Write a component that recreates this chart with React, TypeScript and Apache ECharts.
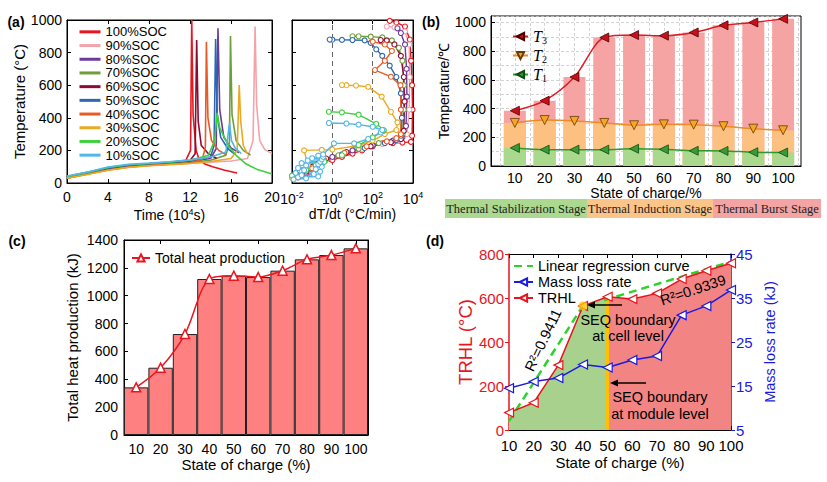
import React, { useEffect, useRef } from "react";
import * as echarts from "echarts";

const SANS = "'Liberation Sans', Arial, Helvetica, sans-serif";
const SERIF = "'Liberation Serif', 'Times New Roman', Times, serif";

// ---------- (a) temperature vs time  [time (1e4 s), T (°C)] ----------
const SOC_NAMES = ["100%SOC", "90%SOC", "80%SOC", "70%SOC", "60%SOC", "50%SOC", "40%SOC", "30%SOC", "20%SOC", "10%SOC"];
const SOC_COLORS = ["#e8141e", "#f4a3ab", "#6b3b9c", "#6e9e3a", "#8c0b32", "#2b68b0", "#ea5a24", "#e9a922", "#3fd03f", "#52b6e8"];

const TEMP_100 = [[0, 38], [2, 62], [4, 88], [6, 105], [8, 115], [10, 125], [11.6, 140], [12.05, 200], [12.17, 1000], [12.3, 420], [12.6, 200], [12.9, 141], [13.5, 115], [14.2, 100], [15.4, 78], [16.6, 61]];
const TEMP_90 = [[0, 30], [2, 55], [4, 80], [6, 98], [8, 108], [10, 115], [12, 122], [14, 128], [16, 135], [17.6, 150], [18.15, 260], [18.35, 960], [18.5, 480], [18.8, 260], [19.3, 205], [20, 180]];
const TEMP_80 = [[0, 35], [2, 60], [4, 88], [6, 105], [8, 115], [10, 122], [12, 132], [14, 150], [14.55, 210], [14.73, 950], [14.9, 450], [15.3, 280], [16, 215], [16.8, 185]];
const TEMP_70 = [[0, 30], [2, 55], [4, 82], [6, 100], [8, 110], [10, 118], [12, 126], [14, 140], [15.5, 170], [15.85, 250], [15.95, 902], [16.1, 420], [16.5, 260], [17.2, 200], [17.9, 172]];
const TEMP_60 = [[0, 40], [2, 65], [4, 92], [6, 108], [8, 118], [10, 125], [12, 138], [12.5, 180], [12.65, 877], [12.8, 380], [13.1, 230], [13.8, 180], [14.6, 150]];
const TEMP_50 = [[0, 38], [2, 62], [4, 90], [6, 108], [8, 118], [10, 126], [12, 138], [14, 160], [14.35, 230], [14.5, 883], [14.65, 420], [15, 280], [15.7, 210], [16.4, 175]];
const TEMP_40 = [[0, 30], [2, 55], [4, 80], [6, 97], [8, 107], [10, 115], [12, 122], [13.2, 145], [13.5, 220], [13.6, 867], [13.75, 400], [14.1, 260], [14.8, 200], [15.5, 175]];
const TEMP_30 = [[0, 30], [2, 52], [4, 78], [6, 96], [8, 106], [10, 113], [12, 120], [14, 132], [16, 150], [16.6, 200], [16.8, 601], [16.95, 380], [17.2, 230], [17.6, 180]];
const TEMP_20 = [[0, 40], [2, 65], [4, 95], [6, 112], [8, 120], [10, 128], [12, 140], [13.8, 170], [14.4, 260], [14.65, 430], [14.9, 340], [15.2, 300], [15.8, 223], [16.5, 170], [17.4, 120], [18.5, 85], [20, 55]];
const TEMP_10 = [[0, 42], [2, 68], [4, 98], [6, 115], [8, 122], [10, 130], [12, 142], [14, 160], [15.5, 190], [15.85, 368], [16.05, 260], [16.4, 215], [17, 180]];
const TEMP_CURVES = [TEMP_100, TEMP_90, TEMP_80, TEMP_70, TEMP_60, TEMP_50, TEMP_40, TEMP_30, TEMP_20, TEMP_10];

// ---------- (a) heating rate vs temperature  [dT/dt (°C/min), T (°C)] ----------
const RATE_100 = [[0.02, 35], [0.05, 60], [0.1, 90], [0.3, 120], [1, 140], [3, 160], [10, 180], [30, 200], [100, 225], [300, 243], [1000, 245], [3000, 248], [7900, 252], [9000, 290], [9500, 450], [9000, 600], [8000, 750], [7000, 880], [4000, 960], [1500, 985], [700, 995]];
const RATE_90 = [[0.01, 30], [0.012, 45], [0.03, 60], [0.1, 100], [0.5, 140], [3, 170], [30, 210], [300, 240], [2000, 265], [5000, 300], [6500, 450], [6800, 650], [6500, 850], [4000, 930], [1200, 955], [500, 960]];
const RATE_80 = [[0.02, 40], [0.05, 70], [0.2, 120], [1, 160], [10, 200], [100, 230], [1000, 260], [3000, 280], [4500, 350], [5000, 530], [4800, 700], [4000, 850], [2500, 920], [1700, 949]];
const RATE_70 = [[0.02, 45], [0.08, 90], [0.3, 130], [2, 170], [20, 210], [200, 245], [1500, 270], [3000, 300], [3500, 450], [3500, 600], [3000, 750], [2000, 830], [900, 875], [300, 893], [80, 898], [20, 900], [10, 900]];
const RATE_60 = [[0.03, 50], [0.1, 100], [0.5, 150], [5, 190], [80, 225], [800, 250], [2500, 270], [3500, 320], [3800, 500], [3500, 650], [2500, 780], [1200, 850], [500, 875], [250, 877]];
const RATE_50 = [[0.02, 45], [0.08, 90], [0.3, 130], [3, 175], [40, 215], [400, 245], [1500, 265], [2500, 290], [2800, 400], [2500, 550], [1500, 650], [700, 720], [300, 780], [150, 820], [80, 860], [40, 875], [10, 877], [3, 878], [1, 879], [0.74, 880]];
const RATE_40 = [[0.02, 40], [0.1, 90], [0.4, 140], [4, 185], [50, 225], [500, 255], [1500, 275], [2500, 300], [2500, 450], [2400, 600], [800, 652], [130, 693], [400, 750], [900, 810], [400, 850], [100, 867]];
const RATE_30 = [[0.01, 35], [0.03, 70], [0.06, 110], [0.04, 200], [0.3, 203], [1, 205], [20, 230], [100, 260], [400, 300], [1500, 325], [1700, 372], [800, 437], [280, 530], [60, 590], [15, 598], [5, 600], [3, 601]];
const RATE_20 = [[0.01, 45], [0.05, 80], [0.15, 110], [0.4, 130], [3, 170], [20, 233], [100, 280], [350, 320], [350, 325], [150, 363], [20, 419], [3, 433], [0.67, 437]];
const RATE_10 = [[0.012, 22], [0.05, 28], [0.02, 35], [0.2, 40], [0.03, 48], [0.12, 55], [0.015, 62], [0.25, 70], [0.04, 78], [0.15, 85], [0.02, 92], [0.3, 100], [0.05, 108], [0.2, 115], [0.03, 122], [0.25, 130], [0.06, 138], [0.3, 145], [0.1, 152], [0.35, 160], [0.2, 168], [0.35, 175], [1.2, 243], [12, 243], [60, 270], [250, 310], [300, 325], [100, 345], [20, 358], [5, 365], [0.68, 368]];
const RATE_CURVES = [RATE_100, RATE_90, RATE_80, RATE_70, RATE_60, RATE_50, RATE_40, RATE_30, RATE_20, RATE_10];
const LOG_TICKS = [0.01, 1, 100, 10000];
const DASHED_RATES = [1, 100];

// ---------- (b) characteristic temperatures ----------
const SOC = [10, 20, 30, 40, 50, 60, 70, 80, 90, 100];
const SOC_LABELS = ["10", "20", "30", "40", "50", "60", "70", "80", "90", "100"];
const T3 = [385, 455, 620, 895, 912, 908, 930, 980, 1000, 1025];
const T2 = [300, 320, 314, 300, 284, 290, 288, 277, 260, 249];
const T1 = [126, 114, 114, 114, 120, 116, 106, 105, 96, 94];
const GRID_X_B = [5, 10, 15, 20, 25, 30, 35, 40, 45, 50, 55, 60, 65, 70, 75, 80, 85, 90, 95, 100, 105];
const STAGES = ["Thermal Stabilization Stage", "Thermal Induction Stage", "Thermal Burst Stage"];

// ---------- (c) total heat production (kJ) ----------
const HEAT = [342, 483, 725, 1120, 1144, 1134, 1180, 1261, 1292, 1340];

// ---------- (d) TRHL and mass loss rate ----------
const TRHL = [79, 124, 295, 564, 606, 595, 621, 686, 724, 758];
const MASS_LOSS = [14.5, 16.0, 16.8, 19.9, 19.2, 20.9, 21.8, 31.1, 33.2, 36.8];
const REG_LOW = [[10, 40], [40, 565]];
const REG_HIGH = [[48.5, 590], [100, 765]];
const CELL_IDX = 3; // 40 %SOC
const MODULE_IDX = 4; // 50 %SOC

const plain = (v: number) => String(v);
const inTick = (color = "#000", inside = true) => ({ show: true, inside, length: 4, lineStyle: { color, width: 1 } });
const axLine = (color = "#000", width = 1) => ({ show: true, onZero: false, lineStyle: { color, width } });
const lbl = (size: number, color = "#000", margin = 6) => ({ fontSize: size, color, margin, fontFamily: SANS, formatter: plain });
const nameStyle = (size: number, color = "#000") => ({ fontSize: size, color, fontFamily: SANS });
const noSplit = { show: false };
const box = { show: true, borderColor: "#000", borderWidth: 1, backgroundColor: "transparent" };

function txt(text: string, x: number, y: number, size: number, extra: any = {}, elExtra: any = {}) {
  return {
    type: "text",
    x,
    y,
    z: 100,
    ...elExtra,
    style: {
      text,
      fontSize: size,
      fontFamily: SANS,
      fill: "#000",
      align: "center",
      verticalAlign: "middle",
      textAlign: "center",
      textVerticalAlign: "middle",
      ...extra,
    },
  };
}

function arrowLeft(x1: number, x2: number, y: number) {
  return [
    { type: "line", z: 100, shape: { x1, y1: y, x2: x2 + 6, y2: y }, style: { stroke: "#000", lineWidth: 1.5 } },
    { type: "polygon", z: 100, shape: { points: [[x2, y], [x2 + 8, y - 3.5], [x2 + 8, y + 3.5]] }, style: { fill: "#000" } },
  ];
}

function buildOption(): any {
  const series: any[] = [];

  // (a) left
  TEMP_CURVES.forEach((d, i) => {
    series.push({
      type: "line", name: SOC_NAMES[i], xAxisIndex: 0, yAxisIndex: 0, data: d,
      symbol: "none", showSymbol: false, lineStyle: { color: SOC_COLORS[i], width: 1.6 },
      itemStyle: { color: SOC_COLORS[i] }, z: 3,
    });
  });
  // (a) right
  RATE_CURVES.forEach((d, i) => {
    const s: any = {
      type: "line", name: SOC_NAMES[i], xAxisIndex: 2, yAxisIndex: 2, data: d,
      symbol: "circle", symbolSize: 5, showSymbol: true,
      lineStyle: { color: SOC_COLORS[i], width: 1.4 },
      itemStyle: { color: "#fff", borderColor: SOC_COLORS[i], borderWidth: 1.1 }, z: 3,
    };
    if (i === 0) {
      s.markLine = {
        silent: true, symbol: "none", z: 2, label: { show: false },
        lineStyle: { type: [5, 4], color: "#666", width: 1 },
        data: DASHED_RATES.map((v) => ({ xAxis: v })),
      };
    }
    series.push(s);
  });

  // (b) bars
  const barB = (name: string, vals: number[], color: string, extra: any = {}) => ({
    type: "bar", name, xAxisIndex: 4, yAxisIndex: 4, data: SOC.map((s, i) => [s, vals[i]]),
    barWidth: 22, barGap: "-100%", itemStyle: { color }, z: 2, ...extra,
  });
  series.push(barB("b3", T3, "#f5a3a3", {
    markLine: {
      silent: true, symbol: "none", z: 1, label: { show: false },
      lineStyle: { type: [3, 2], color: "#c8c8c8", width: 0.8 },
      data: GRID_X_B.map((v) => ({ xAxis: v })),
    },
  }));
  series.push(barB("b2", T2, "#fcc081"));
  series.push(barB("b1", T1, "#aad88c"));
  const lineB = (name: string, vals: number[], line: string, fill: string, border: string, rot: number) => ({
    type: "line", name, xAxisIndex: 4, yAxisIndex: 4, data: SOC.map((s, i) => [s, vals[i]]),
    smooth: 0.3, symbol: "triangle", symbolSize: 9, symbolRotate: rot,
    lineStyle: { color: line, width: 1.5 }, itemStyle: { color: fill, borderColor: border, borderWidth: 0.8 }, z: 5,
  });
  series.push(lineB("T3", T3, "#e01a22", "#c8101a", "#4a0000", 90));
  series.push(lineB("T2", T2, "#f08a24", "#f5a623", "#6a3c00", 180));
  series.push(lineB("T1", T1, "#2e9a2e", "#3a9a3a", "#0d4d0d", 90));

  // (c)
  series.push({
    type: "bar", name: "heatBar", xAxisIndex: 5, yAxisIndex: 6, data: HEAT,
    barWidth: "100%", barCategoryGap: 0, itemStyle: { color: "#ff8080", borderColor: "#222", borderWidth: 1 }, z: 2,
  });
  series.push({
    type: "line", name: "Total heat production", xAxisIndex: 5, yAxisIndex: 6, data: HEAT,
    smooth: 0.3, symbol: "triangle", symbolSize: 9,
    lineStyle: { color: "#e8161e", width: 1.5 }, itemStyle: { color: "#fff", borderColor: "#e8161e", borderWidth: 1.5 }, z: 4,
  });

  // (d)
  const trhlPairs = SOC.map((s, i) => [s, TRHL[i]]);
  series.push({
    type: "line", name: "areaG", xAxisIndex: 7, yAxisIndex: 8, data: trhlPairs.slice(0, MODULE_IDX + 1),
    symbol: "none", lineStyle: { width: 0 }, areaStyle: { color: "#a9d18e", opacity: 1 }, z: 1,
  });
  series.push({
    type: "line", name: "areaR", xAxisIndex: 7, yAxisIndex: 8, data: trhlPairs.slice(MODULE_IDX),
    symbol: "none", lineStyle: { width: 0 }, areaStyle: { color: "#f28484", opacity: 1 }, z: 1,
    markLine: {
      silent: true, symbol: "none", z: 2, label: { show: false },
      lineStyle: { type: "solid", color: "#ffc000", width: 3 },
      data: [[{ coord: [SOC[MODULE_IDX], 0] }, { coord: [SOC[MODULE_IDX], TRHL[MODULE_IDX]] }]],
    },
  });
  const regStyle = { type: [8, 5], color: "#2ed12e", width: 2.5 };
  series.push({ type: "line", name: "Linear regression curve", xAxisIndex: 7, yAxisIndex: 8, data: REG_LOW, symbol: "none", lineStyle: regStyle, itemStyle: { color: "#2ed12e" }, z: 3 });
  series.push({ type: "line", name: "Linear regression curve", xAxisIndex: 7, yAxisIndex: 8, data: REG_HIGH, symbol: "none", lineStyle: regStyle, itemStyle: { color: "#2ed12e" }, z: 3 });
  series.push({
    type: "line", name: "TRHL", xAxisIndex: 7, yAxisIndex: 8, data: trhlPairs,
    symbol: "triangle", symbolRotate: 90, symbolSize: 9,
    lineStyle: { color: "#e8141e", width: 1.5 }, itemStyle: { color: "#fff", borderColor: "#e8141e", borderWidth: 1.2 }, z: 4,
  });
  series.push({
    type: "line", name: "Mass loss rate", xAxisIndex: 7, yAxisIndex: 9, data: SOC.map((s, i) => [s, MASS_LOSS[i]]),
    symbol: "triangle", symbolRotate: 90, symbolSize: 9,
    lineStyle: { color: "#1a1ae0", width: 1.5 }, itemStyle: { color: "#fff", borderColor: "#1a1ae0", borderWidth: 1.2 }, z: 4,
  });
  series.push({
    type: "scatter", name: "cellDot", xAxisIndex: 7, yAxisIndex: 8, data: [[SOC[CELL_IDX], TRHL[CELL_IDX]]],
    symbolSize: 9, itemStyle: { color: "#ffc000" }, z: 6,
  });

  const stageX = [445, 587, 713, 821];
  const stageColors = ["#abd98f", "#fbc58a", "#f5a4a4"];

  const graphic: any[] = [
    txt("(a)", 16, 22, 14, { fontWeight: "bold" }),
    txt("(b)", 431, 22, 14, { fontWeight: "bold" }),
    txt("(c)", 17, 241, 14, { fontWeight: "bold" }),
    txt("(d)", 435, 241, 14, { fontWeight: "bold" }),
  ];
  STAGES.forEach((s, i) => {
    graphic.push({ type: "rect", z: 1, shape: { x: stageX[i], y: 199, width: stageX[i + 1] - stageX[i], height: 19 }, style: { fill: stageColors[i] } });
    graphic.push(txt(s, (stageX[i] + stageX[i + 1]) / 2, 209, 12.5, { fontFamily: SERIF, fill: "#222" }));
  });
  graphic.push(txt("R\u00b2=0.9411", 543, 340, 14.5, {}, { rotation: 1.13 }));
  graphic.push(txt("R\u00b2=0.9339", 693, 290, 14.5, {}, { rotation: 0.32 }));
  graphic.push(txt("SEQ boundary", 628, 320, 14.5));
  graphic.push(txt("at cell level", 628, 336, 14.5));
  graphic.push(txt("SEQ boundary", 660, 397, 14.5));
  graphic.push(txt("at module level", 660, 414, 14.5));
  graphic.push(...arrowLeft(622, 587, 305));
  graphic.push(...arrowLeft(646, 610, 383));

  return {
    animation: false,
    backgroundColor: "#fff",
    textStyle: { fontFamily: SANS },
    grid: [
      { left: 67, top: 20, width: 205, height: 163, ...box },
      { left: 292, top: 20, width: 121, height: 163, ...box },
      { left: 491, top: 16, width: 310, height: 150, ...box },
      { left: 124, top: 240, width: 244, height: 195, ...box },
      { left: 509, top: 254, width: 222, height: 176, show: false },
    ],
    legend: [
      {
        data: SOC_NAMES, orient: "vertical", left: 78, top: 25, padding: 0, itemGap: 0,
        itemWidth: 21, itemHeight: 8, lineStyle: { width: 3 }, itemStyle: { opacity: 0 },
        textStyle: { fontSize: 13, color: "#000", lineHeight: 13.7, fontFamily: SANS },
      },
      {
        data: ["T3", "T2", "T1"], orient: "vertical", left: 512, top: 27, padding: 0, itemGap: 0,
        itemWidth: 15, itemHeight: 9,
        formatter: (n: string) => `{i|T}{s|${n.slice(1)}}`,
        textStyle: {
          color: "#000", lineHeight: 19,
          rich: { i: { fontFamily: SERIF, fontStyle: "italic", fontSize: 16, color: "#000" }, s: { fontFamily: SERIF, fontSize: 10, color: "#000", padding: [7, 0, 0, 0] } },
        },
      },
      {
        data: ["Total heat production"], left: 131, top: 251, padding: 0, itemWidth: 18, itemHeight: 9,
        textStyle: { fontSize: 14, color: "#000", fontFamily: SANS },
      },
      {
        data: [
          { name: "Linear regression curve", itemStyle: { opacity: 0 } },
          "Mass loss rate",
          "TRHL",
        ],
        orient: "vertical", left: 513, top: 258, padding: 0, itemGap: 0,
        itemWidth: 19, itemHeight: 9,
        textStyle: { fontSize: 14.5, color: "#000", lineHeight: 16, fontFamily: SANS },
      },
    ],
    xAxis: [
      {
        gridIndex: 0, type: "value", min: 0, max: 20, interval: 4, position: "bottom",
        axisLine: axLine(), axisTick: inTick(), axisLabel: lbl(14, "#000", 7), splitLine: noSplit,
        name: "Time (10{sup|4}s)", nameLocation: "middle", nameGap: 24,
        nameTextStyle: { ...nameStyle(14), rich: { sup: { fontSize: 9, padding: [0, 0, 7, 0], fontFamily: SANS } } },
      },
      { gridIndex: 0, type: "value", min: 0, max: 20, interval: 4, position: "top", axisLine: axLine(), axisTick: inTick(), axisLabel: { show: false }, splitLine: noSplit },
      {
        gridIndex: 1, type: "log", logBase: 10, min: 0.01, max: 10000, position: "bottom",
        axisLine: axLine(), axisTick: { ...inTick(), customValues: LOG_TICKS }, minorTick: { show: false },
        axisLabel: {
          fontSize: 14, color: "#000", margin: 7, fontFamily: SANS, customValues: LOG_TICKS,
          formatter: (v: number) => `10{e|${Math.round(Math.log10(v))}}`,
          rich: { e: { fontSize: 9, padding: [0, 0, 8, 0], fontFamily: SANS } },
        },
        splitLine: noSplit, name: "dT/dt (\u00b0C/min)", nameLocation: "middle", nameGap: 24, nameTextStyle: nameStyle(14),
      },
      {
        gridIndex: 1, type: "log", logBase: 10, min: 0.01, max: 10000, position: "top",
        axisLine: axLine(), axisTick: { ...inTick(), customValues: LOG_TICKS }, minorTick: { show: false },
        axisLabel: { show: false, customValues: LOG_TICKS }, splitLine: noSplit,
      },
      {
        gridIndex: 2, type: "value", min: 2, max: 106, position: "bottom",
        axisLine: axLine(), axisTick: { show: false }, axisLabel: { ...lbl(14, "#000", 5), customValues: SOC }, splitLine: noSplit,
        name: "State of charge/%", nameLocation: "middle", nameGap: 18, nameTextStyle: nameStyle(14),
      },
      {
        gridIndex: 3, type: "category", data: SOC_LABELS, position: "bottom",
        axisLine: axLine(), axisTick: { ...inTick(), alignWithLabel: true, interval: (i: number) => i % 2 === 1 },
        axisLabel: { fontSize: 14, color: "#000", margin: 7, fontFamily: SANS, interval: 0 },
        name: "State of charge (%)", nameLocation: "middle", nameGap: 21, nameTextStyle: nameStyle(15),
      },
      {
        gridIndex: 3, type: "category", data: SOC_LABELS, position: "top",
        axisLine: axLine(), axisTick: { ...inTick(), alignWithLabel: true, interval: (i: number) => i % 2 === 1 },
        axisLabel: { show: false },
      },
      {
        gridIndex: 4, type: "value", min: 10, max: 100, interval: 10, position: "bottom",
        axisLine: axLine(), axisTick: inTick(), axisLabel: lbl(15, "#000", 8), splitLine: noSplit,
        name: "State of charge (%)", nameLocation: "middle", nameGap: 25, nameTextStyle: nameStyle(15),
      },
      { gridIndex: 4, type: "value", min: 10, max: 100, interval: 10, position: "top", axisLine: axLine(), axisTick: inTick(), axisLabel: { show: false }, splitLine: noSplit },
    ],
    yAxis: [
      {
        gridIndex: 0, type: "value", min: 0, max: 1000, interval: 200, position: "left",
        axisLine: axLine(), axisTick: inTick(), axisLabel: lbl(14, "#000", 5), splitLine: noSplit,
        name: "Temperature (\u00b0C)", nameLocation: "middle", nameGap: 32, nameTextStyle: nameStyle(15),
      },
      { gridIndex: 0, type: "value", min: 0, max: 1000, interval: 200, position: "right", axisLine: axLine(), axisTick: inTick(), axisLabel: { show: false }, splitLine: noSplit },
      { gridIndex: 1, type: "value", min: 0, max: 1000, interval: 200, position: "left", axisLine: axLine(), axisTick: inTick(), axisLabel: { show: false }, splitLine: noSplit },
      { gridIndex: 1, type: "value", min: 0, max: 1000, interval: 200, position: "right", axisLine: axLine(), axisTick: inTick(), axisLabel: { show: false }, splitLine: noSplit },
      {
        gridIndex: 2, type: "value", min: 0, max: 1045, interval: 200, position: "left",
        axisLine: axLine(), axisTick: inTick(), axisLabel: { ...lbl(14, "#000", 5), showMaxLabel: false }, splitLine: noSplit,
        name: "Temperature/\u2103", nameLocation: "middle", nameGap: 29, nameTextStyle: nameStyle(14),
      },
      {
        gridIndex: 2, type: "value", min: 0, max: 1045, interval: 100, position: "left",
        axisLine: { show: false }, axisTick: { show: false }, axisLabel: { show: false },
        splitLine: { show: true, lineStyle: { color: "#c8c8c8", type: [3, 2], width: 0.8 } },
      },
      {
        gridIndex: 3, type: "value", min: 0, max: 1400, interval: 200, position: "left",
        axisLine: axLine(), axisTick: inTick(), axisLabel: lbl(14, "#000", 6), splitLine: noSplit,
        name: "Total heat production (kJ)", nameLocation: "middle", nameGap: 44, nameTextStyle: nameStyle(15),
      },
      { gridIndex: 3, type: "value", min: 0, max: 1400, interval: 200, position: "right", axisLine: axLine(), axisTick: inTick(), axisLabel: { show: false }, splitLine: noSplit },
      {
        gridIndex: 4, type: "value", min: 0, max: 800, interval: 200, position: "left",
        axisLine: axLine("#e8141e", 1.5), axisTick: inTick("#e8141e", false), axisLabel: lbl(15, "#e8141e", 5), splitLine: noSplit,
        name: "TRHL (\u00b0C)", nameLocation: "middle", nameGap: 34, nameTextStyle: nameStyle(18.5, "#e8141e"),
      },
      {
        gridIndex: 4, type: "value", min: 5, max: 45, interval: 10, position: "right",
        axisLine: axLine("#1a1ae0", 1.5), axisTick: inTick("#1a1ae0", false), axisLabel: lbl(15, "#1a1ae0", 5), splitLine: noSplit,
        name: "Mass loss rate (kJ)", nameLocation: "middle", nameGap: 31, nameTextStyle: nameStyle(14.5, "#1a1ae0"),
      },
    ],
    series,
    graphic,
  };
}

export default function App() {
  const ref = useRef<HTMLDivElement>(null);
  useEffect(() => {
    if (!ref.current) return;
    const chart = echarts.init(ref.current, null, { renderer: "svg" });
    chart.setOption(buildOption());
    return () => chart.dispose();
  }, []);
  return <div ref={ref} style={{ position: "fixed", left: 0, top: 0, width: 827, height: 482, background: "#fff" }} />;
}
